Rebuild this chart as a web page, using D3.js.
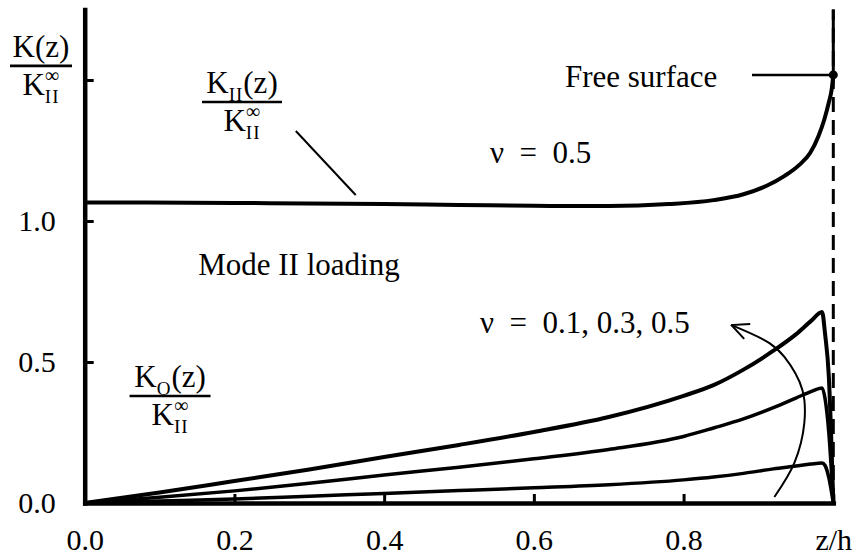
<!DOCTYPE html>
<html>
<head>
<meta charset="utf-8">
<script src="https://cdn.jsdelivr.net/npm/d3@7"></script>
<style>
  body { margin: 0; background: #fff; }
  text { font-family: 'Liberation Serif', 'Times New Roman', serif; fill: #000; }
</style>
</head>
<body>
<svg id="chart" width="863" height="558"></svg>
<script>
'use strict';

// K_II / K_II^inf for nu = 0.5
var kiiZ    = [0, 0.2, 0.4, 0.5, 0.6, 0.7, 0.78, 0.84, 0.88, 0.911, 0.935, 0.955, 0.969, 0.98, 0.988, 0.994, 0.998, 1.0];
var kiiVals = [1.066, 1.064, 1.06, 1.057, 1.054, 1.053, 1.06, 1.074, 1.095, 1.125, 1.16, 1.2, 1.241, 1.30, 1.36, 1.42, 1.47, 1.518];

// K_O / K_II^inf for nu = 0.1, 0.3, 0.5
var koZ  = [0, 0.1, 0.2, 0.3, 0.4, 0.5, 0.6, 0.7, 0.8, 0.84, 0.88, 0.92, 0.95, 0.97, 0.985, 0.989, 0.994, 1.0];
var ko01 = [0, 0.007, 0.014, 0.024, 0.034, 0.044, 0.054, 0.065, 0.082, 0.092, 0.105, 0.121, 0.131, 0.138, 0.142, 0.133, 0.09, 0];
var ko03 = [0, 0.02, 0.043, 0.07, 0.099, 0.127, 0.157, 0.19, 0.236, 0.266, 0.298, 0.338, 0.372, 0.395, 0.408, 0.37, 0.25, 0];
var ko05 = [0, 0.037, 0.078, 0.119, 0.163, 0.206, 0.252, 0.305, 0.38, 0.418, 0.473, 0.54, 0.598, 0.645, 0.677, 0.60, 0.45, 0];

var xTicks = [0, 0.2, 0.4, 0.6, 0.8, 1.0];
var xTickLabels = ['0.0', '0.2', '0.4', '0.6', '0.8', 'z/h'];
var yTicks = [0, 0.5, 1.0, 1.5];
var yTickLabels = ['0.0', '0.5', '1.0', ''];

// curved arrow "nu increasing" (data units)
var arrowZ = [0.9213, 0.948, 0.9613, 0.9587, 0.9347, 0.9147, 0.864];
var arrowK = [0.0213, 0.142, 0.284, 0.401, 0.518, 0.567, 0.631];

var margin = {top: 9.5, right: 29.7, bottom: 55, left: 84.7};
var width = 863 - margin.left - margin.right,
    height = 558 - margin.top - margin.bottom;

var serif = "'Liberation Serif', 'Times New Roman', serif";

var svg = d3.select('#chart')
  .append('g')
    .attr('transform', 'translate(' + margin.left + ',' + margin.top + ')');

var x = d3.scaleLinear().domain([0, 1]).range([0, width]);
var y = d3.scaleLinear().domain([0, 1.75]).range([height, 0]);

function pairs(zs, vs) {
  return zs.map(function (z, i) { return [z, vs[i]]; });
}

var line = d3.line()
  .x(function (d) { return x(d[0]); })
  .y(function (d) { return y(d[1]); })
  .curve(d3.curveMonotoneX);

// free surface (dashed) line at z/h = 1
svg.append('line')
  .attr('x1', x(1)).attr('x2', x(1))
  .attr('y1', y(0)).attr('y2', y(1.75))
  .attr('stroke', '#000').attr('stroke-width', 3)
  .attr('stroke-dasharray', '15,8');
svg.append('line')
  .attr('x1', x(1)).attr('x2', x(1))
  .attr('y1', y(kiiVals[kiiVals.length - 1])).attr('y2', y(1.75))
  .attr('stroke', '#000').attr('stroke-width', 3);

// axes
var xAxis = d3.axisBottom(x)
  .tickValues(xTicks)
  .tickSizeInner(-9).tickSizeOuter(0).tickPadding(25.7)
  .tickFormat(function (d, i) { return xTickLabels[i]; });
var yAxis = d3.axisLeft(y)
  .tickValues(yTicks)
  .tickSizeInner(-9).tickSizeOuter(0).tickPadding(29)
  .tickFormat(function (d, i) { return yTickLabels[i]; });

var gx = svg.append('g').attr('transform', 'translate(0,' + height + ')').call(xAxis);
var gy = svg.append('g').call(yAxis);
[gx, gy].forEach(function (g) {
  g.attr('font-family', serif).attr('font-size', 30);
  g.select('.domain').attr('stroke-width', 4.5).attr('stroke-linecap', 'square');
  g.selectAll('.tick line').attr('stroke-width', 3);
  g.selectAll('.tick text')
    .style('font-family', serif)
    .style('font-size', '30px');
});

// curves
svg.append('path').datum(pairs(kiiZ, kiiVals))
  .attr('d', line).attr('fill', 'none').attr('stroke', '#000').attr('stroke-width', 4);
[ko01, ko03, ko05].forEach(function (vals, i) {
  svg.append('path').datum(pairs(koZ, vals))
    .attr('d', line).attr('fill', 'none').attr('stroke', '#000')
    .attr('stroke-width', i === 2 ? 4 : 3.5).attr('stroke-linejoin', 'round');
});

// free surface marker
svg.append('line')
  .attr('x1', x(0.8914)).attr('x2', x(1))
  .attr('y1', y(1.518)).attr('y2', y(1.518))
  .attr('stroke', '#000').attr('stroke-width', 2.5);
svg.append('circle')
  .attr('cx', x(1)).attr('cy', y(kiiVals[kiiVals.length - 1])).attr('r', 4.5)
  .attr('fill', '#000');

// arrow
svg.append('defs').append('marker')
  .attr('id', 'head')
  .attr('viewBox', '0 0 20 20')
  .attr('refX', 19).attr('refY', 10)
  .attr('markerUnits', 'userSpaceOnUse')
  .attr('markerWidth', 20).attr('markerHeight', 20)
  .attr('orient', 'auto')
  .append('path')
    .attr('d', 'M2,2 L19,10 L2,18')
    .attr('fill', 'none').attr('stroke', '#000').attr('stroke-width', 2);

svg.append('path').datum(pairs(arrowZ, arrowK))
  .attr('d', d3.line()
    .x(function (d) { return x(d[0]); })
    .y(function (d) { return y(d[1]); })
    .curve(d3.curveCatmullRom))
  .attr('fill', 'none').attr('stroke', '#000').attr('stroke-width', 2)
  .attr('marker-end', 'url(#head)');

// leader line for K_II label
svg.append('line')
  .attr('x1', x(0.282)).attr('y1', y(1.319))
  .attr('x2', x(0.362)).attr('y2', y(1.092))
  .attr('stroke', '#000').attr('stroke-width', 2);

// math row: each piece its own text, sup pieces stack over the previous sub
function mathRow(g, parts, cx, baseline) {
  var items = parts.map(function (p) {
    var size = p.s === 'sub' ? 19 : (p.s === 'sup' ? 20 : 31);
    var off = p.s === 'sub' ? 8 : (p.s === 'sup' ? -13 : 0);
    var t = g.append('text')
      .attr('y', baseline + off)
      .style('font-size', size + 'px')
      .style('letter-spacing', p.s === 'sub' ? '1px' : null)
      .text(p.t);
    return {t: t, w: t.node().getComputedTextLength(), stack: p.s === 'sup'};
  });
  var pos = 0, start = 0, xs = [];
  items.forEach(function (it) {
    if (it.stack) {
      xs.push(start);
      pos = Math.max(pos, start + it.w);
    } else {
      xs.push(pos);
      start = pos;
      pos += it.w;
    }
  });
  items.forEach(function (it, i) { it.t.attr('x', cx - pos / 2 + xs[i]); });
}

var denom = [{t: 'K'}, {t: 'II', s: 'sub'}, {t: '\u221E', s: 'sup'}];

function frac(g, cx, barY, barW, num) {
  mathRow(g, num, cx, barY - 9);
  g.append('line')
    .attr('x1', cx - barW / 2).attr('x2', cx + barW / 2)
    .attr('y1', barY).attr('y2', barY)
    .attr('stroke', '#000').attr('stroke-width', 2.6);
  mathRow(g, denom, cx, barY + 29);
}

// y axis title
frac(svg, -43.7, y(1.55), 62, [{t: 'K(z)'}]);
// K_II label
frac(svg, x(0.2101), y(1.422), 80, [{t: 'K'}, {t: 'II', s: 'sub'}, {t: '(z)'}]);
// K_O label
frac(svg, x(0.114), y(0.3794), 81, [{t: 'K'}, {t: 'O', s: 'sub'}, {t: '(z)'}]);

function label(txt, zx, ky, anchor) {
  svg.append('text')
    .attr('x', x(zx)).attr('y', y(ky))
    .attr('text-anchor', anchor || 'start')
    .style('font-size', '31px')
    .style('white-space', 'pre')
    .text(txt);
}

label('Free surface', 0.845, 1.475, 'end');
label('Mode II loading', 0.1516, 0.8085);
label('\u03BD  =  0.5', 0.5414, 1.2057);
label('\u03BD  =  0.1, 0.3, 0.5', 0.528, 0.6028);
</script>
</body>
</html>
